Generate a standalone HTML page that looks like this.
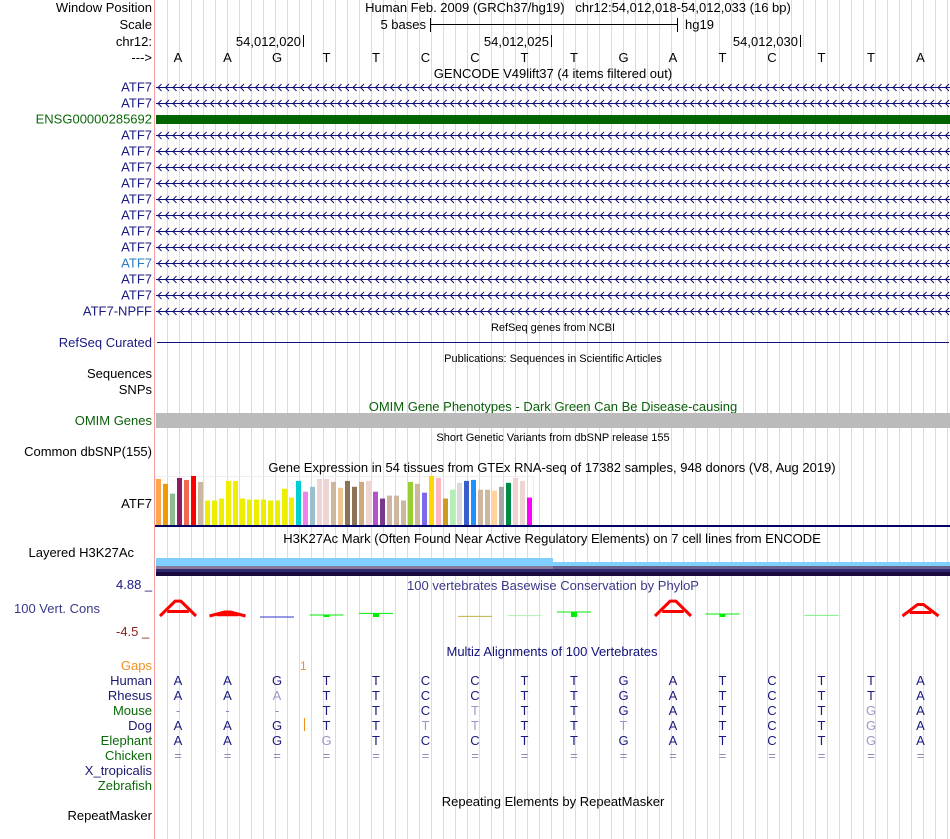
<!DOCTYPE html>
<html><head><meta charset="utf-8"><style>
body{margin:0;background:#fff;}
svg{display:block;font-family:"Liberation Sans",Arial,sans-serif;}
.l{font-size:13px;text-anchor:end;}
.c{font-size:13px;text-anchor:middle;}
.s{font-size:11px;text-anchor:middle;}
</style></head><body>
<svg id="g" width="950" height="839" viewBox="0 0 950 839">
<g id="grid"></g>
<line x1="154.5" y1="0" x2="154.5" y2="839" stroke="#f4a0a0"/>

<g>
<text class="l" x="152" y="12">Window Position</text>
<text class="l" x="152" y="29">Scale</text>
<text class="l" x="152" y="46">chr12:</text>
<text class="l" x="152" y="62">---&gt;</text>
<text class="c" x="578" y="12" xml:space="preserve" style="white-space:pre">Human Feb. 2009 (GRCh37/hg19)   chr12:54,012,018-54,012,033 (16 bp)</text>
<text class="l" x="426" y="29">5 bases</text>
<line x1="430" y1="24.5" x2="678" y2="24.5" stroke="#000"/>
<line x1="430.5" y1="18" x2="430.5" y2="32" stroke="#000"/>
<line x1="677.5" y1="18" x2="677.5" y2="32" stroke="#000"/>
<text font-size="13" x="685" y="29">hg19</text>
<text class="l" x="301" y="46">54,012,020</text><line x1="303.5" y1="35" x2="303.5" y2="47" stroke="#000"/>
<text class="l" x="549" y="46">54,012,025</text><line x1="551.5" y1="35" x2="551.5" y2="47" stroke="#000"/>
<text class="l" x="798" y="46">54,012,030</text><line x1="800.5" y1="35" x2="800.5" y2="47" stroke="#000"/>
<g id="bases"></g>
<text class="c" x="553" y="78">GENCODE V49lift37 (4 items filtered out)</text>
</g>

<g id="genes"></g>

<g>
<text class="s" x="553" y="331">RefSeq genes from NCBI</text>
<text class="l" x="152" y="347" fill="#1a1a80">RefSeq Curated</text>
<line x1="157" y1="342.5" x2="949" y2="342.5" stroke="#10107a"/>
<text class="s" x="553" y="362">Publications: Sequences in Scientific Articles</text>
<text class="l" x="152" y="378">Sequences</text>
<text class="l" x="152" y="394">SNPs</text>
<text class="c" x="553" y="411" fill="#0a5f0a">OMIM Gene Phenotypes - Dark Green Can Be Disease-causing</text>
<text class="l" x="152" y="425" fill="#0a5f0a">OMIM Genes</text>
<rect x="156" y="413" width="794" height="15" fill="#bbbbbb"/>
<text class="s" x="553" y="441">Short Genetic Variants from dbSNP release 155</text>
<text class="l" x="152" y="456">Common dbSNP(155)</text>
</g>

<g>
<text class="c" x="552" y="472">Gene Expression in 54 tissues from GTEx RNA-seq of 17382 samples, 948 donors (V8, Aug 2019)</text>
<text class="l" x="152" y="508">ATF7</text>
<rect x="155.5" y="476.5" width="378" height="49" fill="none" stroke="#eee"/>
<g id="gtex"></g>
<rect x="155" y="525" width="795" height="2" fill="#000060"/>
</g>

<g>
<text class="c" x="552" y="543">H3K27Ac Mark (Often Found Near Active Regulatory Elements) on 7 cell lines from ENCODE</text>
<text class="l" x="134" y="557">Layered H3K27Ac</text>
<rect x="156" y="558" width="397" height="8" fill="#80d0ff"/>
<rect x="553" y="562" width="397" height="4" fill="#80d0ff"/>
<rect x="156" y="566" width="397" height="3" fill="#8a7a9a"/>
<rect x="553" y="566" width="397" height="3" fill="#6a6090"/>
<rect x="156" y="569" width="794" height="3" fill="#302870"/>
<rect x="156" y="572" width="794" height="4" fill="#1a0a40"/>
</g>

<g>
<text font-size="13" x="116" y="589" fill="#1a1a80">4.88 _</text>
<text class="c" x="553" y="590" fill="#3a3a8a">100 vertebrates Basewise Conservation by PhyloP</text>
<text class="l" x="100" y="613" fill="#3a3a8a">100 Vert. Cons</text>
<text font-size="13" x="116" y="636" fill="#8a2020">-4.5 _</text>
<g id="cons"></g>
</g>

<g>
<text class="c" x="552" y="656" fill="#10107a">Multiz Alignments of 100 Vertebrates</text>
<text class="l" x="152" y="670" fill="#f0901a">Gaps</text>
<text font-size="12" x="300" y="670" fill="#f0901a">1</text>
<line x1="304.5" y1="718" x2="304.5" y2="731" stroke="#f0901a"/>
<g id="aln"></g>
<text class="c" x="553" y="806">Repeating Elements by RepeatMasker</text>
<text class="l" x="152" y="820">RepeatMasker</text>
</g>
</svg>
<script>
const NS="http://www.w3.org/2000/svg";
function mk(tag,attrs,parent,txt){const e=document.createElementNS(NS,tag);for(const k in attrs)e.setAttribute(k,attrs[k]);if(txt!=null)e.textContent=txt;parent.appendChild(e);return e;}
const grid=document.getElementById('grid');
for(let x=167.5;x<950;x+=12){mk('line',{x1:x,y1:0,x2:x,y2:839,stroke:'#d8d8f4'},grid);}
const X0=153.25, BW=49.5;
function bx(i){return X0+BW*(i+0.5);}
const refBases=["A","A","G","T","T","C","C","T","T","G","A","T","C","T","T","A"];
const bg=document.getElementById('bases');
refBases.forEach((b,i)=>{const t=mk('text',{class:'c',x:bx(i),y:62},bg,b);

});
const geneNames=["ATF7","ATF7","ENSG00000285692","ATF7","ATF7","ATF7","ATF7","ATF7","ATF7","ATF7","ATF7","ATF7","ATF7","ATF7","ATF7-NPFF"];
const gg=document.getElementById('genes');
geneNames.forEach((n,i)=>{const y=87+16*i;
const light=(i==11);const green=(i==2);
const col=green?'#0a6a0a':(light?'#2a7ac0':'#1a1a80');
const t=mk('text',{class:'l',x:152,y:y+4.5,fill:col},gg,n);


if(green){const r=mk('rect',{x:156,y:y-4,width:794,height:9,fill:'#006400'},gg);

}
else{let d=`M156,${y+0.5} L950,${y+0.5}`;
for(let x=158;x<948;x+=7.5){d+=` M${x+3.5},${y-3} L${x},${y+0.5} L${x+3.5},${y+4}`;}
const p=mk('path',{d:d,fill:'none',stroke:'#10107a','stroke-width':1},gg);

}
});
const gtexValues=[47,42,32,48,46,50,44,25,25,27,45,45,27,26,26,26,25,25,37,28,45,34,39,47,47,44,38,45,39,44,45,34,27,30,30,25,44,42,33,50,48,27,36,43,45,46,36,36,35,39,43,48,45,28];
const gtexColors=["#FFA54F","#EE9A00","#8FBC8F","#8B1C62","#EE6A50","#FF0000","#CDB79E","#EEEE00","#EEEE00","#EEEE00","#EEEE00","#EEEE00","#EEEE00","#EEEE00","#EEEE00","#EEEE00","#EEEE00","#EEEE00","#EEEE00","#EEEE00","#00CED1","#EE82EE","#9AC0CD","#EED5D2","#EED5D2","#CDB79E","#EEC591","#8B7355","#8B7355","#CDAA7D","#EED5D2","#B452CD","#7A378B","#CDB79E","#CDB79E","#CDB79E","#9ACD32","#CDB79E","#7B68EE","#FFD700","#FFB6C1","#CD9B1D","#B4EEB4","#D9D9D9","#3A5FCD","#1E90FF","#CDB79E","#CDB79E","#FFD39B","#A6A6A6","#008B45","#EED5D2","#EED5D2","#FF00FF"];
const gt=document.getElementById('gtex');
const GB=525, GH=49/50;
gtexValues.forEach((v,i)=>{const h=v*GH;
const r=mk('rect',{x:156+7*i,y:GB-h,width:5,height:h,fill:gtexColors[i]},gt);

});
const consValues=[4.5,1.2,-0.3,0.3,0.8,0,-0.1,0.1,1.2,0,4.5,0.6,0,0.2,0,3.5];
const consColors=["red","red","#3030d0","#00ee00","#00ee00","none","#c0b040","#b0f0b0","#00ee00","none","red","#00ee00","none","#80f080","none","red"];
const cg=document.getElementById('cons');
const CB=616, CS=3.3;
consValues.forEach((v,i)=>{const c=consColors[i];if(c==='none')return;const cx=bx(i);
if(c==='red'){const h=v*CS;const w=36;
const p=mk('path',{d:`M${cx-w/2},${CB} L${cx-w*0.08},${CB-h} L${cx+w*0.08},${CB-h} L${cx+w/2},${CB} M${cx-w*0.3},${CB-h*0.3} L${cx+w*0.3},${CB-h*0.3}`,fill:'none',stroke:'red','stroke-width':3},cg);

}
else{const y=CB-v*CS;
const l=mk('line',{x1:cx-17,y1:y,x2:cx+17,y2:y,stroke:c,'stroke-width':1},cg);


if(v>0.2){mk('rect',{x:cx-3,y:y,width:6,height:CB-y+1,fill:'#00ee00'},cg);}}
});
const species=["Human","Rhesus","Mouse","Dog","Elephant","Chicken","X_tropicalis","Zebrafish"];
const spColors=["#1a1a6e","#1a1a6e","#0a6a0a","#1a1a6e","#0a6a0a","#0a6a0a","#1a1a6e","#0a6a0a"];
const alnRows=["AAGTTCCTTGATCTTA","AAaTTCCTTGATCTTA","---TTCtTTGATCTgA","AAGTTttTTtATCTgA","AAGgTCCTTGATCTgA","================","",""];
const ag=document.getElementById('aln');
species.forEach((s,r)=>{const y=685+15*r;
const t=mk('text',{class:'l',x:152,y:y,fill:spColors[r]},ag,s);


const row=alnRows[r];
for(let i=0;i<row.length;i++){let ch=row[i];let col='#1a1a80';
if(ch==='-'||ch==='='){col='#8a8ab8';}
else if(ch===ch.toLowerCase()){ch=ch.toUpperCase();col='#9a9ac8';}
const b=mk('text',{class:'c',x:bx(i),y:y,fill:col},ag,ch);

}
});
</script>
</body></html>
